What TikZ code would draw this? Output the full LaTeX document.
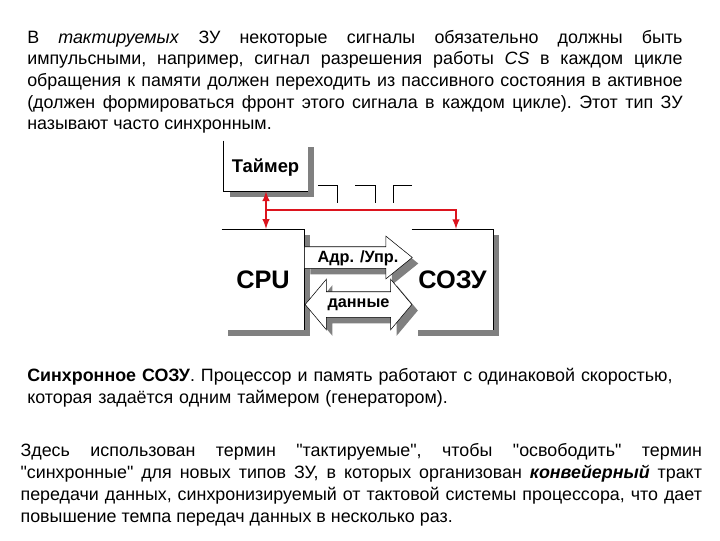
\documentclass[tikz,border=0pt]{standalone}
\usepackage{fontspec}
\setmainfont{Liberation Sans}[Ligatures=TeXOff]
\usetikzlibrary{positioning,shapes.arrows,shadows}
\definecolor{shadowgray}{RGB}{128,128,128}
\definecolor{linkred}{RGB}{220,20,30}
\begin{document}
\begin{tikzpicture}[x=0.75pt, y=-0.75pt,
    para/.style = {inner sep=0pt, anchor=north west, align=justify, font=\fontsize{13.4}{16.2}\selectfont\frenchspacing},
    shade/.style = {drop shadow={shadow xshift=4.5pt, shadow yshift=-4.5pt, opacity=1, fill=shadowgray}},
    main/.style = {shade, fill=white, inner sep=0pt, font=\fontsize{19}{21}\selectfont\bfseries},
    pulse/.style = {draw=black, line width=0.6pt},
    link/.style = {draw=linkred, line width=1.5pt, -latex},
    adrarrow/.style = {shade, shape=single arrow, draw, thin, fill=white, inner sep=0pt, text height=15.75pt, text depth=0pt, text width=0pt, minimum height=81pt, minimum width=31.5pt, single arrow head extend=7.9pt, single arrow tip angle=78, anchor=tail},
    dataarrow/.style = {shade, shape=double arrow, draw, thin, fill=white, inner sep=0pt, text height=18.75pt, text depth=0pt, text width=0pt, minimum height=80pt, minimum width=37.5pt, double arrow head extend=9.4pt, double arrow tip angle=100},
    tag/.style = {inner sep=0pt, font=\fontsize{12.2}{14}\selectfont\bfseries}]
    \useasboundingbox (0,0) rectangle (720,540);
    \node[para, text width=491.5pt] (p1) at (27,30) {В \textit{тактируемых} ЗУ некоторые сигналы обязательно должны быть\linebreak
        импульсными, например, сигнал разрешения работы \textit{CS} в каждом цикле\linebreak
        обращения к памяти должен переходить из пассивного состояния в активное\linebreak
        (должен формироваться фронт этого сигнала в каждом цикле). Этот тип ЗУ\linebreak
        называют часто синхронным.};
    \node[main, minimum width=63pt, minimum height=37.5pt] (timer) at (266,166) {};
    \node[inner sep=0pt, font=\fontsize{13.8}{16}\selectfont\bfseries] (timertext) at (265.5,168) {Таймер};
    \node[main, minimum width=61.5pt, minimum height=75.5pt] (cpu) at (263,279.5) {CPU};
    \node[main, minimum width=61pt, minimum height=75.5pt] (sozu) at (452.5,279.5) {СОЗУ};
    % edges of the boxes
    \draw (timer.north west) -- (timer.south west) -- (timer.south east);
    \draw (cpu.north west) -- (cpu.north east) -- (cpu.south east);
    \draw (sozu.north west) -- (sozu.north east) -- (sozu.south east);
    % clock pulses
    \draw[pulse] (318,185) -- (337,185) -- (337,203);
    \draw[pulse] (355,185) -- (375,185) -- (375,203);
    \draw[pulse] (412,185) -- (393,185) -- (393,203);
    % clock lines
    \coordinate (fork) at (timer.south |- 0,210);
    \coordinate (turn) at (456,210);
    \coordinate (cpuin) at (timer.south |- cpu.north);
    \coordinate (sozuin) at (456,229);
    \draw[link, latex-latex] (timer.south) -- (cpuin);
    \draw[link] (fork) -- (turn) -- (sozuin);
    % buses
    \node[adrarrow] (adr) at (304,257.5) {};
    \node[dataarrow] (data) at (358.5,304.5) {};
    \node[tag] (adrtext) at (358,258) {Адр. /Упр.};
    \node[tag] (datatext) at (358.5,305) {данные};
    \node[para, text width=491.5pt, align=left] (p2) at (27,368) {\textbf{Синхронное СОЗУ}. Процессор и память работают с одинаковой скоростью,\\
        которая задаётся одним таймером (генератором).};
    \node[para, text width=511pt, below=27pt of p2.south west, anchor=north west, xshift=-5pt, font=\fontsize{13.4}{16.4}\selectfont\frenchspacing] (p3) {Здесь использован термин "тактируемые", чтобы "освободить" термин\linebreak
        "синхронные" для новых типов ЗУ, в которых организован \textbf{\textit{конвейерный}} тракт\linebreak
        передачи данных, синхронизируемый от тактовой системы процессора, что дает\linebreak
        повышение темпа передач данных в несколько раз.};
\end{tikzpicture}
\end{document}
